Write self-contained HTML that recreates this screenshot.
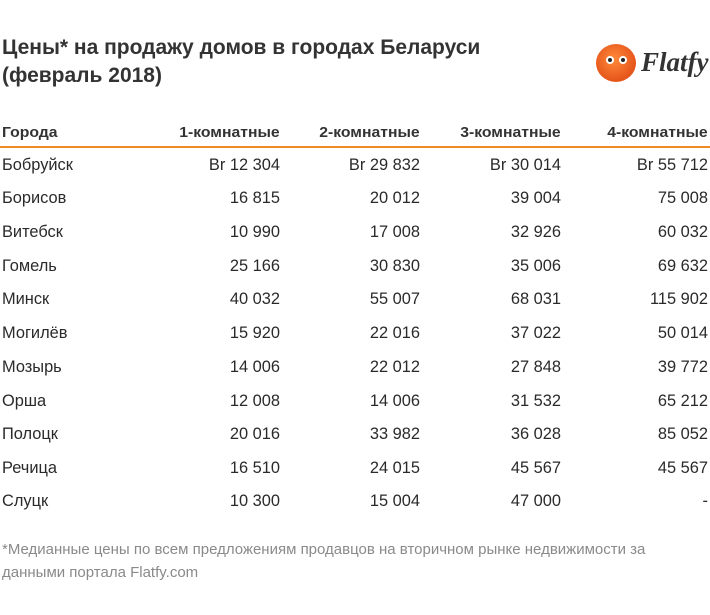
<!DOCTYPE html>
<html><head><meta charset="utf-8"><style>
body{margin:0;width:710px;height:615px;background:#fff;font-family:"Liberation Sans",sans-serif;color:#222;position:relative;overflow:hidden}
.t{position:absolute;left:2px;font-weight:bold;font-size:21px;color:#333;white-space:nowrap;transform-origin:0 0;transform:scaleX(1.0)}
.c{position:absolute;white-space:nowrap;font-size:16.4px;color:#2a2a2a;transform-origin:100% 0}
.l{transform-origin:0 0}
.h{font-weight:bold;color:#333;font-size:15px;transform:scaleX(1.05)}
.f{position:absolute;left:2px;font-size:15px;color:#8a8a8a;white-space:nowrap;transform-origin:0 0;transform:scaleX(1.0)}
</style></head><body>
<div class="t" style="top:36px">Цены* на продажу домов в городах Беларуси</div>
<div class="t" style="top:64px">(февраль 2018)</div>
<div style="position:absolute;left:596px;top:44px;width:40px;height:38px;border-radius:50%;background:radial-gradient(circle at 45% 40%,#ff8a3a,#e5541a 70%,#f0a070)"></div>
<div style="position:absolute;left:606px;top:56px;width:8px;height:8px;border-radius:50%;background:#fff"></div>
<div style="position:absolute;left:619px;top:56px;width:8px;height:8px;border-radius:50%;background:#fff"></div>
<div style="position:absolute;left:608px;top:58px;width:4px;height:4px;border-radius:50%;background:#222"></div>
<div style="position:absolute;left:621px;top:58px;width:4px;height:4px;border-radius:50%;background:#222"></div>
<div style="position:absolute;left:641px;top:47px;font-family:'Liberation Serif',serif;font-style:italic;font-weight:bold;font-size:27px;color:#333">Flatfy</div>
<div style="position:absolute;left:0;top:146px;width:710px;height:2px;background:#f08a24"></div>
<div id="tb"></div>
<div class="f" style="top:541px">*Медианные цены по всем предложениям продавцов на вторичном рынке недвижимости за</div>
<div class="f" style="top:564px">данными портала Flatfy.com</div>
<script>
var rows=[["Города","1-комнатные","2-комнатные","3-комнатные","4-комнатные"],
["Бобруйск","Br 12 304","Br 29 832","Br 30 014","Br 55 712"],
["Борисов","16 815","20 012","39 004","75 008"],
["Витебск","10 990","17 008","32 926","60 032"],
["Гомель","25 166","30 830","35 006","69 632"],
["Минск","40 032","55 007","68 031","115 902"],
["Могилёв","15 920","22 016","37 022","50 014"],
["Мозырь","14 006","22 012","27 848","39 772"],
["Орша","12 008","14 006","31 532","65 212"],
["Полоцк","20 016","33 982","36 028","85 052"],
["Речица","16 510","24 015","45 567","45 567"],
["Слуцк","10 300","15 004","47 000","-"]];
var ys=[124,156,189,223,257,290,324,358,392,425,459,492];
var rs=[280,420,561,708];var h="";
rows.forEach(function(r,i){var cl=i==0?" h":"";
h+='<div class="c l'+cl+'" style="left:2px;top:'+ys[i]+'px">'+r[0]+'</div>';
for(var j=1;j<5;j++)h+='<div class="c'+cl+'" style="right:'+(710-rs[j-1])+'px;top:'+ys[i]+'px">'+r[j]+'</div>';});
document.getElementById("tb").innerHTML=h;
</script>
</body></html>
